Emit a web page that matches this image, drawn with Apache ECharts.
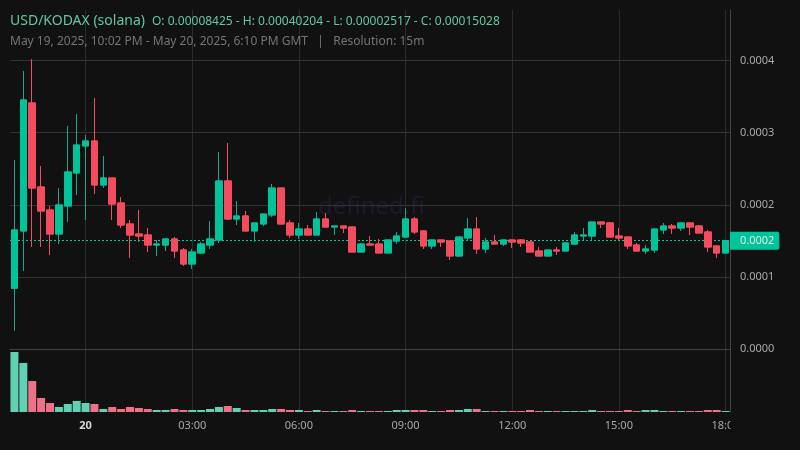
<!DOCTYPE html>
<html><head><meta charset="utf-8">
<style>html,body{margin:0;padding:0;background:#111}#c{width:800px;height:450px}</style>
<script src="https://cdn.jsdelivr.net/npm/echarts@6/dist/echarts.min.js"></script>
</head><body><div id="c"></div>
<script>
const categories=['22:00','22:15','22:30','22:45','23:00','23:15','23:30','23:45','20','00:15','00:30','00:45','01:00','01:15','01:30','01:45','02:00','02:15','02:30','02:45','03:00','03:15','03:30','03:45','04:00','04:15','04:30','04:45','05:00','05:15','05:30','05:45','06:00','06:15','06:30','06:45','07:00','07:15','07:30','07:45','08:00','08:15','08:30','08:45','09:00','09:15','09:30','09:45','10:00','10:15','10:30','10:45','11:00','11:15','11:30','11:45','12:00','12:15','12:30','12:45','13:00','13:15','13:30','13:45','14:00','14:15','14:30','14:45','15:00','15:15','15:30','15:45','16:00','16:15','16:30','16:45','17:00','17:15','17:30','17:45','18:00'];
const tickLabels=['20','03:00','06:00','09:00','12:00','15:00','18:00'];
const priceTicks=[0,0.0001,0.0002,0.0003,0.0004];
const opens=[0.00008425,0.0001637,0.0003412,0.0002247,0.0001928,0.0001595,0.0001983,0.0002441,0.0002816,0.0002885,0.0002275,0.0002372,0.0002025,0.0001734,0.0001595,0.0001581,0.0001442,0.0001442,0.0001526,0.0001373,0.0001179,0.0001332,0.0001442,0.0001512,0.000233,0.0001803,0.0001845,0.0001637,0.0001734,0.0001859,0.0002233,0.0001748,0.0001581,0.0001664,0.0001581,0.0001803,0.0001692,0.0001706,0.0001692,0.0001345,0.0001456,0.0001456,0.0001332,0.0001498,0.0001553,0.0001803,0.0001637,0.0001429,0.0001512,0.0001498,0.000129,0.000154,0.0001664,0.0001387,0.0001484,0.0001456,0.0001512,0.0001512,0.0001484,0.0001359,0.000129,0.0001373,0.0001359,0.0001456,0.0001567,0.0001567,0.0001761,0.0001748,0.0001567,0.0001553,0.0001442,0.0001359,0.0001373,0.0001651,0.0001706,0.0001678,0.0001748,0.0001706,0.0001623,0.0001429,0.0001332];
const closes=[0.0001651,0.0003454,0.0002233,0.0001914,0.0001595,0.0001997,0.0002455,0.0002829,0.0002885,0.0002275,0.0002372,0.0002011,0.000172,0.0001581,0.0001567,0.0001442,0.0001456,0.0001526,0.0001359,0.0001179,0.0001345,0.0001456,0.0001526,0.000233,0.0001803,0.0001845,0.0001637,0.0001748,0.0001872,0.0002233,0.0001734,0.0001581,0.0001664,0.0001581,0.0001803,0.0001692,0.0001706,0.0001678,0.0001345,0.0001456,0.0001442,0.0001332,0.0001512,0.0001567,0.0001803,0.0001623,0.0001429,0.0001512,0.0001484,0.000129,0.0001553,0.0001664,0.0001387,0.0001484,0.0001456,0.0001512,0.0001484,0.000147,0.0001345,0.000129,0.0001373,0.0001359,0.000147,0.0001581,0.0001581,0.0001761,0.0001734,0.0001553,0.000154,0.0001429,0.0001359,0.0001387,0.0001664,0.0001706,0.0001678,0.0001748,0.0001692,0.0001609,0.0001415,0.0001332,0.00015028];
const lows=[0.00002517,0.0001082,0.0001415,0.0001415,0.0001304,0.0001456,0.0001761,0.0002136,0.0001789,0.000215,0.0002233,0.0001789,0.0001678,0.0001262,0.0001484,0.0001345,0.000129,0.0001359,0.0001262,0.0001151,0.000111,0.0001318,0.0001387,0.000147,0.0001789,0.000172,0.0001637,0.0001484,0.0001706,0.0001831,0.0001734,0.000154,0.0001526,0.0001581,0.0001581,0.0001692,0.0001581,0.0001609,0.0001345,0.0001345,0.0001442,0.0001332,0.0001332,0.0001456,0.0001553,0.0001595,0.0001387,0.0001387,0.0001415,0.0001234,0.0001276,0.0001498,0.0001318,0.0001332,0.0001456,0.0001429,0.0001401,0.0001415,0.0001345,0.000129,0.000129,0.0001304,0.0001359,0.0001442,0.0001512,0.0001512,0.0001678,0.0001553,0.0001512,0.0001387,0.0001359,0.0001318,0.0001332,0.0001595,0.0001595,0.0001637,0.0001581,0.0001609,0.0001345,0.0001262,0.0001318];
const highs=[0.0002621,0.0003856,0.00040204,0.0002538,0.0001983,0.0002233,0.0003093,0.0003259,0.0002968,0.0003481,0.0002677,0.0002372,0.0002108,0.0001789,0.0001928,0.0001678,0.0001512,0.0001526,0.0001553,0.0001401,0.0001387,0.0001484,0.0001775,0.0002732,0.0002857,0.0002053,0.0001914,0.0001748,0.0001872,0.0002289,0.0002233,0.0001789,0.0001748,0.000172,0.00019,0.0001886,0.0001706,0.0001706,0.0001692,0.000147,0.0001567,0.0001526,0.0001512,0.0001623,0.0001956,0.0001831,0.0001651,0.0001512,0.0001512,0.0001498,0.0001553,0.0001817,0.0001831,0.000154,0.0001581,0.0001512,0.0001512,0.0001526,0.0001484,0.0001415,0.0001373,0.0001415,0.000147,0.0001623,0.0001678,0.0001761,0.0001761,0.0001761,0.0001678,0.0001553,0.000147,0.0001442,0.0001664,0.0001748,0.0001734,0.0001748,0.0001748,0.000172,0.0001651,0.0001429,0.00015028];
const volumes=[60,49,31,14,9,5,8,11,9,8,3,5,3,5,4,3,2,2,3,2,2,2,3,5,6,4,2,2,2,3,3,2,2,1,2,1,1,1,2,1,1,1,1,2,2,2,2,1,1,2,2,3,3,1,1,1,1,1,2,1,1,1,1,1,1,2,1,1,1,2,1,2,2,1,1,1,1,1,2,2,1];
const lastPrice=0.00015028;
const UP='#00c39a',DOWN='#f44c5e',WICK_UP='#1fa58b',VUP='#62d0b3',VDOWN='#ee7187';
const FONT='"Noto Sans"';
const chart=echarts.init(document.getElementById('c'),null,{renderer:'canvas'});
chart.setOption({
 animation:false,backgroundColor:'#111111',textStyle:{fontFamily:FONT},
 title:[
  {text:'USD/KODAX (solana)',left:10,top:14,padding:0,textStyle:{color:'#62c6a8',fontSize:14,fontWeight:'normal',fontFamily:FONT}},
  {text:'O: 0.00008425 - H: 0.00040204 - L: 0.00002517 - C: 0.00015028',left:152,top:16,padding:0,textStyle:{color:'#62c6a8',fontSize:12,fontWeight:'normal',fontFamily:FONT}},
  {text:'May 19, 2025, 10:02 PM - May 20, 2025, 6:10 PM GMT   |   Resolution: 15m',left:10,top:36,padding:0,textStyle:{color:'#757575',fontSize:12,fontWeight:'normal',fontFamily:FONT}}
 ],
 graphic:[
  {type:'text',left:318,top:195,z:0,style:{text:'defined.fi',fill:'#1b1b2c',font:'24px '+FONT}},
  {type:'rect',shape:{x:730.5,y:413,width:70,height:37},z:100,style:{fill:'#111111'}}
 ],
 grid:[
  {left:10,width:720,top:10,height:402},
  {left:10,width:720,top:352,height:60}
 ],
 xAxis:[
  {type:'category',gridIndex:0,data:categories,
   axisLine:{show:true,lineStyle:{color:'#444'}},axisTick:{show:false},
   splitLine:{show:true,alignWithLabel:true,interval:(i,v)=>tickLabels.includes(v),lineStyle:{color:'#2c2c2c',width:1}},
   axisLabel:{interval:(i,v)=>tickLabels.includes(v),color:'#a8a8a8',fontSize:11,margin:8,fontFamily:FONT,hideOverlap:false,showMaxLabel:true,
     formatter:v=>v==='20'?'{b|20}':v,rich:{b:{color:'#d8d8d8',fontWeight:'bold',fontSize:11,fontFamily:FONT}}}},
  {type:'category',gridIndex:1,data:categories,axisLine:{show:false},axisTick:{show:false},axisLabel:{show:false},splitLine:{show:false}}
 ],
 yAxis:[
  {type:'value',gridIndex:0,position:'right',min:-0.00008738,max:0.00047018,scale:false,
   axisLine:{show:true,lineStyle:{color:'#444'}},axisTick:{show:false,customValues:priceTicks},
   splitLine:{show:true,lineStyle:{color:'#333',width:1}},
   axisLabel:{customValues:priceTicks,color:'#a8a8a8',fontSize:11,margin:10,fontFamily:FONT,formatter:v=>(+v).toFixed(4)}},
  {type:'value',gridIndex:1,min:0,max:60,show:false,splitLine:{show:false}}
 ],
 series:[
  {type:'candlestick',name:'wicks',xAxisIndex:0,yAxisIndex:0,barWidth:7,clip:false,z:3,
   itemStyle:{color:UP,color0:DOWN,borderColor:WICK_UP,borderColor0:DOWN,borderWidth:1},
   data:opens.map((o,i)=>[o,closes[i],lows[i],highs[i]]),
   markLine:{silent:true,symbol:'none',z:1,animation:false,precision:8,
    lineStyle:{color:'#00d0a2',type:[2,2],width:1},
    label:{show:true,position:'end',distance:0,formatter:()=>lastPrice.toFixed(4),color:'#e4e4e4',fontSize:11,fontFamily:FONT,backgroundColor:UP,padding:[4,5,3,10],borderRadius:[0,2,2,0]},
    data:[{yAxis:lastPrice}]}},
  {type:'candlestick',name:'bodies',xAxisIndex:0,yAxisIndex:0,barWidth:7,clip:false,z:4,
   itemStyle:{color:UP,color0:DOWN,borderColor:UP,borderColor0:DOWN,borderWidth:1},
   data:opens.map((o,i)=>[o,closes[i],Math.min(o,closes[i]),Math.max(o,closes[i])])},
  {type:'bar',xAxisIndex:1,yAxisIndex:1,barWidth:8,z:2,
   data:volumes.map((v,i)=>({value:v,itemStyle:{color:closes[i]>=opens[i]?VUP:VDOWN}}))}
 ]
});
</script></body></html>
